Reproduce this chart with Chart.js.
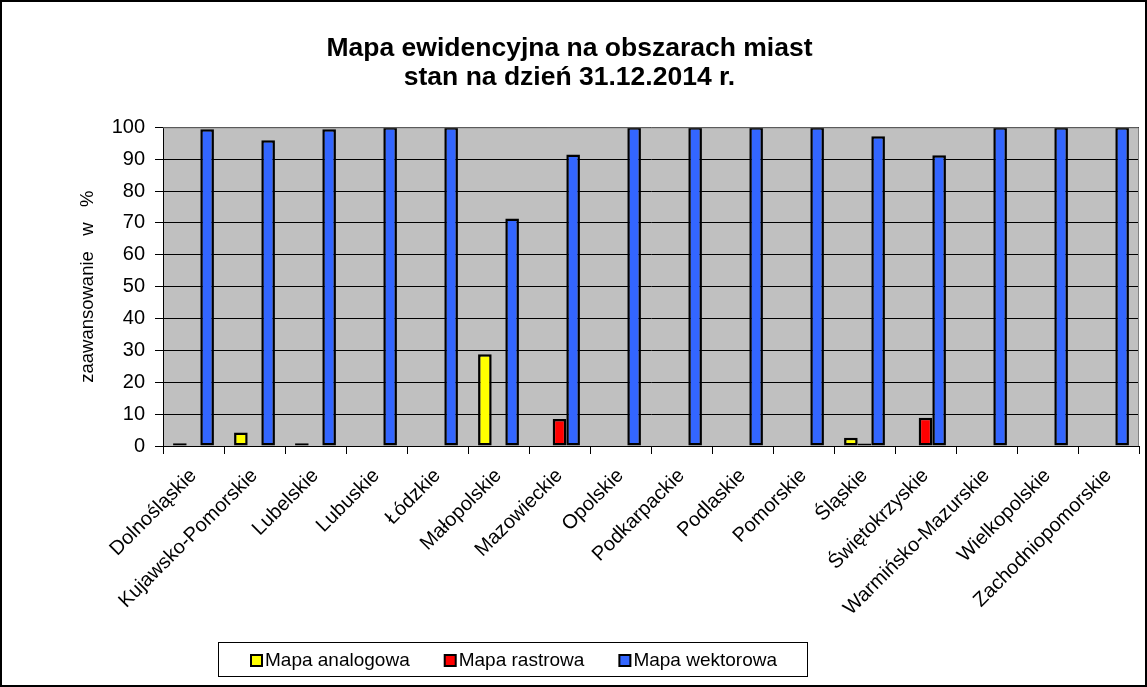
<!DOCTYPE html>
<html>
<head>
<meta charset="utf-8">
<script src="https://cdn.jsdelivr.net/npm/chart.js@4/dist/chart.umd.min.js"></script>
<style>
  html, body { margin: 0; padding: 0; background: #fff; }
  #wrap { width: 1147px; height: 687px; position: relative; }
</style>
</head>
<body>
<div id="wrap"><canvas id="chart"></canvas></div>
<script>
const regions = ['Dolnośląskie', 'Kujawsko-Pomorskie', 'Lubelskie', 'Lubuskie', 'Łódzkie',
  'Małopolskie', 'Mazowieckie', 'Opolskie', 'Podkarpackie', 'Podlaskie', 'Pomorskie',
  'Śląskie', 'Świętokrzyskie', 'Warmińsko-Mazurskie', 'Wielkopolskie', 'Zachodniopomorskie'];

const analogowa = [0.9, 4.2, 0.9, null, null, 28.8, null, null, null, null, null, 2.6, null, null, null, null];
const rastrowa  = [null, null, null, null, null, null, 8.5, null, null, null, null, 0.8, 8.9, null, null, null];
const wektorowa = [99.4, 95.9, 99.4, 100, 100, 71.4, 91.5, 100, 100, 100, 100, 97.2, 91.2, 100, 100, 100];

const yTicks = [0, 10, 20, 30, 40, 50, 60, 70, 80, 90, 100];

const FONT = 'Arial, "Liberation Sans", sans-serif';

// szare tlo obszaru wykresu, ramka i legenda w ramce
const decor = {
  id: 'decor',
  beforeDraw(chart) {
    const { ctx, chartArea: a } = chart;
    ctx.save();
    ctx.fillStyle = '#C0C0C0';
    ctx.fillRect(a.left, a.top, a.right - a.left, a.bottom - a.top);
    ctx.restore();
  },
  afterDatasetsDraw(chart) {
    const { ctx, chartArea: a } = chart;
    ctx.save();
    ctx.strokeStyle = '#808080';
    ctx.lineWidth = 1;
    ctx.beginPath();
    ctx.moveTo(a.left, a.top + 0.5);
    ctx.lineTo(a.right - 0.5, a.top + 0.5);
    ctx.lineTo(a.right - 0.5, a.bottom);
    ctx.stroke();
    ctx.restore();
  },
  afterDraw(chart) {
    const ctx = chart.ctx;
    ctx.save();
    // ramka calego wykresu
    ctx.strokeStyle = '#000';
    ctx.lineWidth = 2;
    ctx.strokeRect(1, 1, 1145, 685);
    // legenda
    ctx.lineWidth = 1;
    ctx.strokeRect(218.5, 642.5, 589, 34);
    ctx.font = '19px ' + FONT;
    ctx.textBaseline = 'middle';
    let x = 251;
    chart.data.datasets.forEach(ds => {
      ctx.fillStyle = ds.backgroundColor;
      ctx.fillRect(x, 655, 11, 11);
      ctx.strokeStyle = '#000';
      ctx.lineWidth = 2;
      ctx.strokeRect(x, 655, 11, 11);
      ctx.fillStyle = '#000';
      ctx.fillText(ds.label, x + 14, 661);
      x += 14 + ctx.measureText(ds.label).width + 35;
    });
    ctx.restore();
  }
};

new Chart(document.getElementById('chart'), {
  type: 'bar',
  data: {
    labels: regions,
    datasets: [
      { label: 'Mapa analogowa', data: analogowa, backgroundColor: '#FFFF00' },
      { label: 'Mapa rastrowa', data: rastrowa, backgroundColor: '#FF0000' },
      { label: 'Mapa wektorowa', data: wektorowa, backgroundColor: '#3366FF' }
    ]
  },
  options: {
    responsive: true,
    maintainAspectRatio: false,
    animation: false,
    datasets: {
      bar: {
        borderColor: '#000',
        borderWidth: 2.5,
        borderSkipped: false,
        categoryPercentage: 0.67,
        barPercentage: 1
      }
    },
    layout: { padding: { top: 0, left: 0, right: 8, bottom: 46 } },
    plugins: {
      legend: { display: false },
      tooltip: { enabled: false },
      title: {
        display: true,
        text: ['Mapa ewidencyjna na obszarach miast', 'stan na dzień 31.12.2014 r.'],
        color: '#000',
        font: { family: FONT, size: 26.5, weight: 'bold', lineHeight: 1.1 },
        padding: { top: 34, bottom: 35 }
      }
    },
    scales: {
      x: {
        afterFit(scale) { scale.height = 195; },
        grid: {
          offset: true,
          drawOnChartArea: false,
          drawTicks: true,
          tickLength: 8,
          color: '#000'
        },
        border: { color: '#000', width: 1 },
        ticks: {
          color: '#000',
          font: { family: FONT, size: 20 },
          maxRotation: 45,
          minRotation: 45,
          autoSkip: false,
          padding: 10
        }
      },
      y: {
        min: 0,
        max: 100,
        afterFit(scale) { scale.width = 163; },
        afterBuildTicks(scale) { scale.ticks = yTicks.map(v => ({ value: v })); },
        grid: { color: '#000', lineWidth: 1, tickLength: 8 },
        border: { color: '#000', width: 1 },
        ticks: {
          color: '#000',
          font: { family: FONT, size: 20 },
          padding: 10
        },
        title: {
          display: true,
          text: 'zaawansowanie   w   %',
          color: '#000',
          font: { family: FONT, size: 18.5 },
          padding: { top: 77, bottom: 0 }
        }
      }
    }
  },
  plugins: [decor]
});
</script>
</body>
</html>
